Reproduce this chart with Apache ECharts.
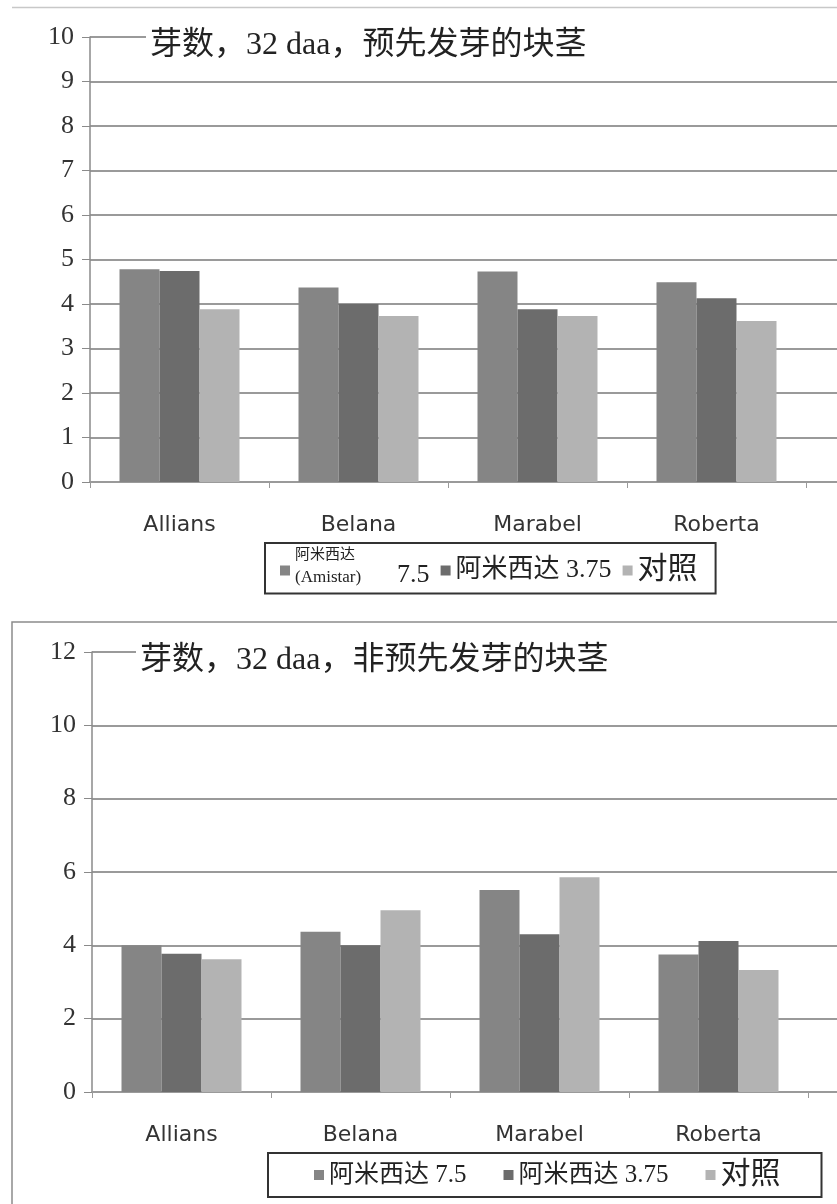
<!DOCTYPE html>
<html>
<head>
<meta charset="utf-8">
<script src="https://cdn.jsdelivr.net/npm/echarts@6/dist/echarts.min.js"></script>
<style>
  html, body { margin: 0; padding: 0; background: #fff; }
  #chart { width: 837px; height: 1204px; }
</style>
</head>
<body>
<div id="chart"></div>
<script>
// Cultivars on the category axis
const categories = ['Allians', 'Belana', 'Marabel', 'Roberta'];

// Sprout counts at 32 daa, pre-sprouted tubers
const preAmistar75 = [4.78, 4.37, 4.73, 4.49];
const preAmistar375 = [4.74, 4.00, 3.88, 4.13];
const preControl = [3.88, 3.73, 3.73, 3.62];

// Sprout counts at 32 daa, non-pre-sprouted tubers
const nonAmistar75 = [4.00, 4.37, 5.51, 3.75];
const nonAmistar375 = [3.77, 4.00, 4.30, 4.12];
const nonControl = [3.62, 4.96, 5.86, 3.33];

// Value axis ranges: [min, max, interval]
const preScale = [0, 10, 1];
const nonScale = [0, 12, 2];

const titles = ['芽数，32 daa，预先发芽的块茎', '芽数，32 daa，非预先发芽的块茎'];
const preNames = ['阿米西达 (Amistar) 7.5', '阿米西达 3.75', '对照'];
const nonNames = ['阿米西达 7.5', '阿米西达 3.75', '对照'];

const colors = ['#858585', '#6c6c6c', '#b3b3b3'];
const serif = 'Liberation Serif, Noto Sans CJK SC';

const chart = echarts.init(document.getElementById('chart'), null, { renderer: 'canvas' });

function barSeries(name, data, axisIndex, color) {
  return {
    type: 'bar', name, data,
    xAxisIndex: axisIndex, yAxisIndex: axisIndex,
    barWidth: 40, barGap: '0%',
    itemStyle: { color },
    emphasis: { disabled: true },
    z: 3
  };
}

function categoryAxis(gridIndex) {
  return {
    type: 'category', gridIndex, data: categories,
    axisLine: { lineStyle: { color: '#9a9a9a', width: 2 } },
    axisTick: { show: true, length: 6, lineStyle: { color: '#9a9a9a', width: 1 } },
    axisLabel: { margin: 32, fontFamily: 'DejaVu Sans', fontSize: 22, color: '#333' },
    splitLine: { show: false }
  };
}

function hiddenValue(gridIndex, scale) {
  return { type: 'value', gridIndex, min: scale[0], max: scale[1], interval: scale[2], show: false };
}

function visibleValue(gridIndex, scale) {
  return {
    type: 'value', gridIndex, min: scale[0], max: scale[1], interval: scale[2],
    axisLine: { show: true, lineStyle: { color: '#8a8a8a', width: 1.5 } },
    axisTick: { show: true, length: 8, lineStyle: { color: '#8a8a8a' } },
    axisLabel: { margin: 16, fontFamily: 'Liberation Serif', fontSize: 26, color: '#333' },
    splitLine: { show: true, lineStyle: { color: '#9a9a9a', width: 2 } }
  };
}

const titleStyle = { fontFamily: serif, fontSize: 32, fontWeight: 'normal', color: '#222' };

const option = {
  animation: false,
  backgroundColor: '#fff',
  title: [
    { text: titles[0], left: 146, top: 28, padding: [2, 400, 2, 4], backgroundColor: '#fff', textStyle: titleStyle },
    { text: titles[1], left: 136, top: 643, padding: [2, 400, 2, 4], backgroundColor: '#fff', textStyle: titleStyle }
  ],
  legend: [
    {
      data: preNames, left: 265, top: 543,
      orient: 'horizontal', itemWidth: 10, itemHeight: 10, itemGap: 11, icon: 'rect',
      borderColor: '#333', borderWidth: 2, padding: [5, 18, 5, 15],
      selectedMode: false,
      formatter: function (name) {
        if (name === preNames[0]) return '{s1|阿米西达}\n{s2|(Amistar)}{n|7.5}';
        if (name === preNames[2]) return '{c|对照}';
        return '{m|' + name + '}';
      },
      textStyle: {
        fontFamily: serif, color: '#222',
        rich: {
          s1: { fontFamily: serif, fontSize: 15, lineHeight: 14, color: '#222' },
          s2: { fontFamily: serif, fontSize: 17, lineHeight: 30, color: '#222' },
          n: { fontFamily: serif, fontSize: 26, lineHeight: 12, padding: [0, 0, 0, 36], verticalAlign: 'top', color: '#222' },
          m: { fontFamily: serif, fontSize: 26, color: '#222' },
          c: { fontFamily: serif, fontSize: 30, color: '#222' }
        }
      }
    },
    {
      data: nonNames, left: 268, top: 1153,
      orient: 'horizontal', itemWidth: 10, itemHeight: 10, itemGap: 37, icon: 'rect',
      borderColor: '#333', borderWidth: 2, padding: [7, 41, 7, 46],
      selectedMode: false,
      formatter: function (name) {
        if (name === nonNames[2]) return '{c|对照}';
        return '{m|' + name + '}';
      },
      textStyle: {
        fontFamily: serif, color: '#222',
        rich: {
          m: { fontFamily: serif, fontSize: 25, color: '#222' },
          c: { fontFamily: serif, fontSize: 30, color: '#222' }
        }
      }
    }
  ],
  grid: [
    { left: 90, top: 37, width: 716, height: 445 },
    { left: 90, top: 37, right: 0, height: 445 },
    { left: 92, top: 652, width: 716, height: 440 },
    { left: 92, top: 652, right: 0, height: 440 }
  ],
  xAxis: [
    categoryAxis(0),
    { type: 'value', gridIndex: 1, min: 0, max: 1, show: false },
    categoryAxis(2),
    { type: 'value', gridIndex: 3, min: 0, max: 1, show: false }
  ],
  yAxis: [
    hiddenValue(0, preScale),
    visibleValue(1, preScale),
    hiddenValue(2, nonScale),
    visibleValue(3, nonScale)
  ],
  graphic: [
    { type: 'line', shape: { x1: 12, y1: 7.5, x2: 837, y2: 7.5 }, style: { stroke: '#c8c8c8', lineWidth: 1.5 }, silent: true },
    { type: 'rect', shape: { x: 12, y: 622, width: 900, height: 700 }, style: { fill: 'none', stroke: '#8c8c8c', lineWidth: 1.5 }, silent: true, z: -1 }
  ],
  series: [
    barSeries(preNames[0], preAmistar75, 0, colors[0]),
    barSeries(preNames[1], preAmistar375, 0, colors[1]),
    barSeries(preNames[2], preControl, 0, colors[2]),
    barSeries(nonNames[0], nonAmistar75, 2, colors[0]),
    barSeries(nonNames[1], nonAmistar375, 2, colors[1]),
    barSeries(nonNames[2], nonControl, 2, colors[2])
  ]
};

chart.setOption(option);
</script>
</body>
</html>
